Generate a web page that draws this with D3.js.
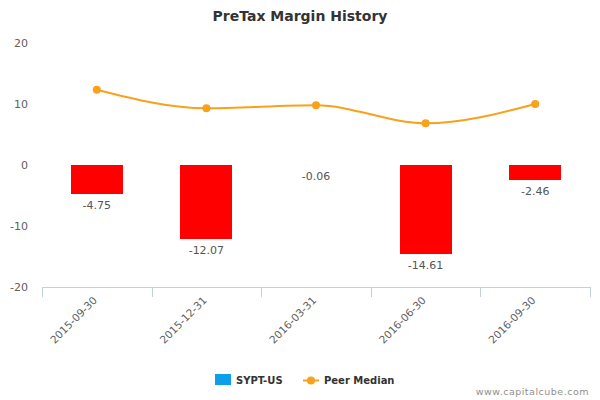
<!DOCTYPE html>
<html><head><meta charset="utf-8">
<script src="https://cdn.jsdelivr.net/npm/d3@7"></script>
<style>
body{margin:0;background:#fff;}
svg{font-family:"DejaVu Sans",Verdana,sans-serif;}
</style></head>
<body><svg id="c" width="600" height="400"></svg>
<script>
const categories = ["2015-09-30","2015-12-31","2016-03-31","2016-06-30","2016-09-30"];
const companyValues = [-4.75, -12.07, -0.06, -14.61, -2.46];
const peerMedian = [12.34, 9.29, 9.78, 6.83, 10.0];
const yTicks = [-20, -10, 0, 10, 20];

(function(){
const svg = d3.select("#c");
const pLeft = 42, pRight = 590, pTop = 43, pBottom = 287;

const x = d3.scaleBand().domain(categories).range([pLeft, pRight]).paddingInner(0).paddingOuter(0);
const y = d3.scaleLinear().domain([-20, 20]).range([pBottom, pTop]);

svg.append("text").attr("x", 300).attr("y", 21).attr("text-anchor", "middle")
  .attr("font-size", 14).attr("font-weight", "bold").attr("fill", "#333")
  .text("PreTax Margin History");

// y axis labels
const yAxis = d3.axisLeft(y).tickValues(yTicks).tickSize(0).tickPadding(0).tickFormat(d => String(d));
const ya = svg.append("g").attr("transform", `translate(28,0)`).call(yAxis);
ya.select(".domain").remove();
ya.selectAll("text").attr("font-size", 11).attr("fill", "#606060")
  .attr("font-family", "DejaVu Sans, Verdana, sans-serif");

// x axis
const xa = svg.append("g").attr("transform", `translate(0,${pBottom})`);
xa.append("line").attr("x1", pLeft).attr("x2", pRight).attr("y1", 0.5).attr("y2", 0.5)
  .attr("stroke", "#c0d0e0");
const bounds = categories.map(c => x(c)).concat([pRight]);
xa.selectAll("line.tick").data(bounds).enter().append("line")
  .attr("x1", d => Math.round(d) + 0.5).attr("x2", d => Math.round(d) + 0.5)
  .attr("y1", 0).attr("y2", 10).attr("stroke", "#c0d0e0");
xa.selectAll("text.lab").data(categories).enter().append("text")
  .attr("transform", d => `translate(${x(d) + x.bandwidth()/2 + 1},${14}) rotate(-45)`)
  .attr("text-anchor", "end").attr("font-size", 10.5).attr("fill", "#606060")
  .text(d => d);

// bars
const bw = 52;
svg.append("g").selectAll("rect").data(companyValues).enter().append("rect")
  .attr("x", (d, i) => x(categories[i]) + x.bandwidth()/2 - bw/2)
  .attr("width", bw)
  .attr("y", d => y(Math.max(0, d)))
  .attr("height", d => Math.abs(y(d) - y(0)))
  .attr("shape-rendering", "crispEdges")
  .attr("fill", "#ff0000");

svg.append("g").selectAll("text").data(companyValues).enter().append("text")
  .attr("x", (d, i) => x(categories[i]) + x.bandwidth()/2)
  .attr("y", d => y(Math.min(0, d)) + 15)
  .attr("text-anchor", "middle").attr("font-size", 11).attr("fill", "#555")
  .text(d => d.toFixed(2));

// peer median line
const cx = (d, i) => x(categories[i]) + x.bandwidth()/2;
const line = d3.line().x(cx).y(d => y(d)).curve(d3.curveMonotoneX);
svg.append("path").datum(peerMedian).attr("d", line)
  .attr("fill", "none").attr("stroke", "#f9a11b").attr("stroke-width", 2);
svg.append("g").selectAll("circle").data(peerMedian).enter().append("circle")
  .attr("cx", cx).attr("cy", d => y(d)).attr("r", 4).attr("fill", "#f9a11b");

// legend
const lg = svg.append("g");
lg.append("rect").attr("x", 215).attr("y", 374).attr("width", 16).attr("height", 11).attr("fill", "#0ca0e8");
lg.append("text").attr("x", 236).attr("y", 384).attr("font-size", 10).attr("font-weight", "bold").attr("fill", "#333").text("SYPT-US");
lg.append("line").attr("x1", 303).attr("x2", 319).attr("y1", 380.5).attr("y2", 380.5).attr("stroke", "#f9a11b").attr("stroke-width", 2);
lg.append("circle").attr("cx", 311).attr("cy", 380.5).attr("r", 4).attr("fill", "#f9a11b");
lg.append("text").attr("x", 324).attr("y", 384).attr("font-size", 10).attr("font-weight", "bold").attr("fill", "#333").text("Peer Median");

svg.append("text").attr("x", 589).attr("y", 395).attr("text-anchor", "end")
  .attr("font-size", 9.5).attr("fill", "#909090").attr("letter-spacing", 0.5).text("www.capitalcube.com");
})();
</script></body></html>
